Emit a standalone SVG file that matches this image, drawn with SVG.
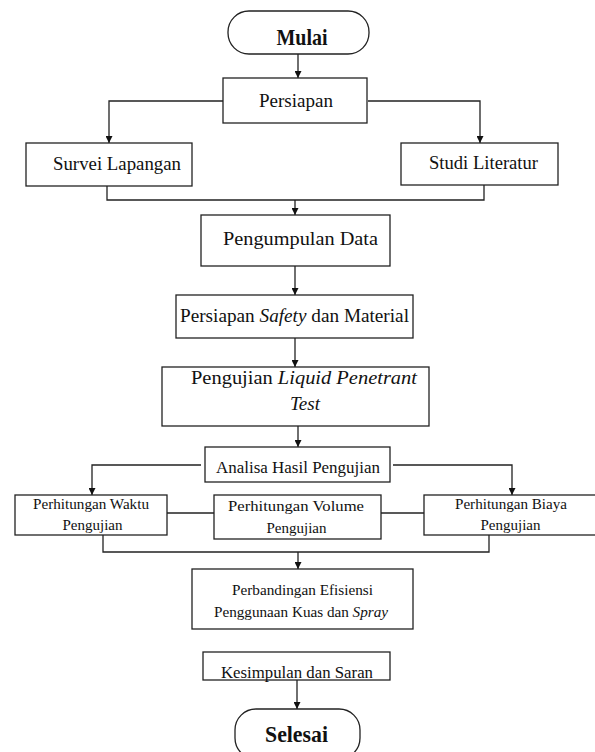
<svg xmlns="http://www.w3.org/2000/svg" width="595" height="752" viewBox="0 0 595 752">
<defs>
<marker id="ah" viewBox="0 0 8 8" refX="8" refY="4" markerWidth="7" markerHeight="7" markerUnits="userSpaceOnUse" orient="auto">
<path d="M0,0 L8,4 L0,8 z" fill="#111"/>
</marker>
<style>
.box{fill:#fff;stroke:#222;stroke-width:1.3}
.t{font-family:"Liberation Serif","Times New Roman",serif;fill:#111;text-anchor:middle}
.b{font-weight:bold}
.c{fill:none;stroke:#222;stroke-width:1.3}
.a{marker-end:url(#ah)}
</style>
</defs>
<rect width="595" height="752" fill="#fff"/>
<g id="connectors">
<path class="c a" d="M298,54 V78"/>
<path class="c a" d="M224,101 H109 V143"/>
<path class="c a" d="M368,101 H480 V143"/>
<path class="c" d="M107,186 V200 H484 V185"/>
<path class="c a" d="M295,200 V215"/>
<path class="c a" d="M295,266 V295"/>
<path class="c a" d="M295,338 V367"/>
<path class="c a" d="M298,426 V447"/>
<path class="c a" d="M201,465 H92 V495"/>
<path class="c a" d="M393,465 H512 V495"/>
<path class="c" d="M167,513 H214"/>
<path class="c" d="M381,513 H424"/>
<path class="c" d="M103,535 V552 H489 V535"/>
<path class="c a" d="M298,552 V569"/>
<path class="c a" d="M297,680 V709"/>
</g>
<g id="mulai">
<rect class="box" x="228" y="11" width="141" height="43" rx="21" ry="21"/>
<text class="t b" x="302" y="45" font-size="24" textLength="51" lengthAdjust="spacingAndGlyphs">Mulai</text>
</g>
<g id="persiapan">
<rect class="box" x="223" y="78" width="144" height="45"/>
<text class="t" x="296" y="107" font-size="19" textLength="74" lengthAdjust="spacingAndGlyphs">Persiapan</text>
</g>
<g id="survei">
<rect class="box" x="26" y="143" width="166" height="43"/>
<text class="t" x="117" y="170" font-size="19" textLength="128" lengthAdjust="spacingAndGlyphs">Survei Lapangan</text>
</g>
<g id="studi">
<rect class="box" x="401" y="143" width="157" height="42"/>
<text class="t" x="483.5" y="169" font-size="19" textLength="109" lengthAdjust="spacingAndGlyphs">Studi  Literatur</text>
</g>
<g id="pengumpulan">
<rect class="box" x="201" y="215" width="189" height="51"/>
<text class="t" x="300.5" y="245" font-size="19" textLength="155" lengthAdjust="spacingAndGlyphs">Pengumpulan  Data</text>
</g>
<g id="safety">
<rect class="box" x="176" y="295" width="237" height="43"/>
<text class="t" x="294.5" y="322" font-size="19" textLength="229" lengthAdjust="spacingAndGlyphs">Persiapan <tspan font-style="italic">Safety</tspan> dan Material</text>
</g>
<g id="pengujian">
<rect class="box" x="162" y="367" width="267" height="59"/>
<text class="t" x="304" y="384" font-size="19" textLength="226" lengthAdjust="spacingAndGlyphs">Pengujian  <tspan font-style="italic">Liquid Penetrant</tspan></text>
<text class="t" x="305" y="410" font-size="19" font-style="italic">Test</text>
</g>
<g id="analisa">
<rect class="box" x="205" y="447" width="185" height="35"/>
<text class="t" x="298" y="473" font-size="17" textLength="164" lengthAdjust="spacingAndGlyphs">Analisa Hasil Pengujian</text>
</g>
<g id="waktu">
<rect class="box" x="15" y="495" width="152" height="40"/>
<text class="t" x="91" y="509" font-size="15" textLength="116" lengthAdjust="spacingAndGlyphs">Perhitungan Waktu</text>
<text class="t" x="92.5" y="530" font-size="15">Pengujian</text>
</g>
<g id="volume">
<rect class="box" x="214" y="495" width="167" height="44"/>
<text class="t" x="296" y="511" font-size="15" textLength="136" lengthAdjust="spacingAndGlyphs">Perhitungan Volume</text>
<text class="t" x="296.5" y="533" font-size="15">Pengujian</text>
</g>
<g id="biaya">
<rect class="box" x="424" y="495" width="174" height="40"/>
<text class="t" x="511" y="509" font-size="15" textLength="112" lengthAdjust="spacingAndGlyphs">Perhitungan Biaya</text>
<text class="t" x="510.5" y="530" font-size="15">Pengujian</text>
</g>
<g id="perbandingan">
<rect class="box" x="192" y="569" width="221" height="60"/>
<text class="t" x="302.5" y="595" font-size="15" textLength="141" lengthAdjust="spacingAndGlyphs">Perbandingan  Efisiensi</text>
<text class="t" x="301" y="617" font-size="15" textLength="174" lengthAdjust="spacingAndGlyphs">Penggunaan  Kuas dan <tspan font-style="italic">Spray</tspan></text>
</g>
<g id="kesimpulan">
<rect class="box" x="203" y="652" width="187" height="28"/>
<text class="t" x="297" y="678" font-size="16" textLength="152" lengthAdjust="spacingAndGlyphs">Kesimpulan  dan Saran</text>
</g>
<g id="selesai">
<rect class="box" x="235" y="709" width="125" height="50" rx="21" ry="21"/>
<text class="t b" x="296.5" y="742" font-size="24" textLength="63" lengthAdjust="spacingAndGlyphs">Selesai</text>
</g>
</svg>
